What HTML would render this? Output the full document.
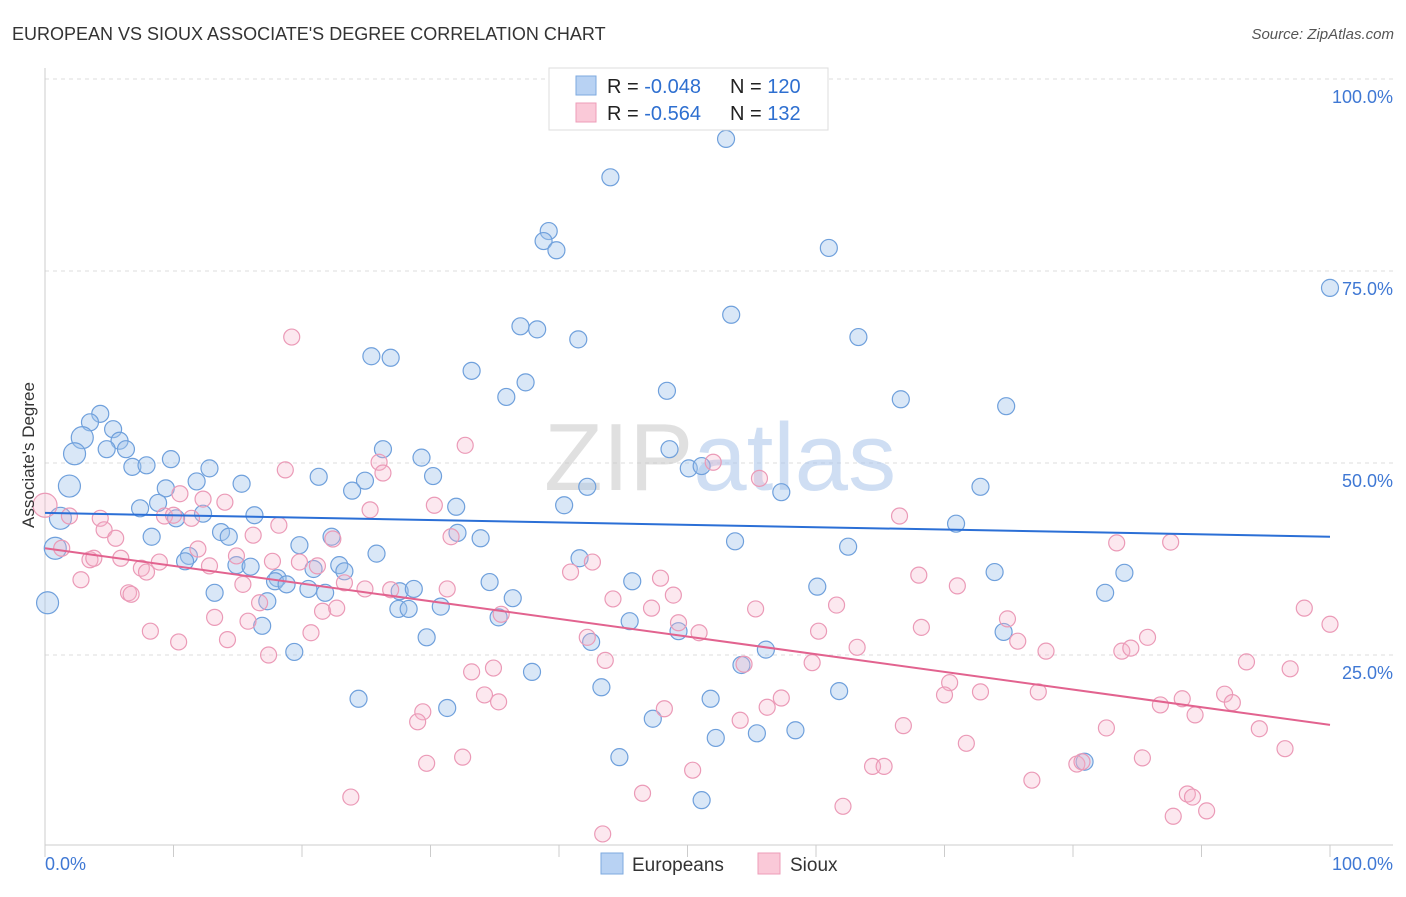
<!DOCTYPE html>
<html><head><meta charset="utf-8"><style>
body{margin:0;background:#fff;font-family:"Liberation Sans",sans-serif;}
svg text{font-family:"Liberation Sans",sans-serif;}
</style></head><body>
<svg id="chart" width="1406" height="892" xmlns="http://www.w3.org/2000/svg">
<text x="12" y="40" font-size="18" fill="#333">EUROPEAN VS SIOUX ASSOCIATE'S DEGREE CORRELATION CHART</text>
<text x="1394" y="39" font-size="15" fill="#555" font-style="italic" text-anchor="end">Source: ZipAtlas.com</text>
<g id="grid"></g>
<text x="720" y="490" font-size="96" text-anchor="middle" fill="#ccd6e6" opacity="0.55" font-family="Liberation Serif"><tspan fill="#c8c8c8">ZIP</tspan><tspan fill="#a8c4ea">atlas</tspan></text>
<g id="axes"></g>
<g id="pts"></g>
<g id="lines"></g>
<text x="34" y="455" font-size="17" fill="#333" text-anchor="middle" transform="rotate(-90 34 455)">Associate's Degree</text>
<g>
<rect x="549" y="68" width="279" height="62" fill="#fff" stroke="#ddd"/>
<rect x="576" y="76" width="20" height="19" fill="#b8d2f3" stroke="#7eaadf"/>
<rect x="576" y="103" width="20" height="19" fill="#fac9d8" stroke="#ee9db8"/>
<text x="607" y="93" font-size="20" fill="#222">R = <tspan fill="#2e6fd0">-0.048</tspan></text>
<text x="730" y="93" font-size="20" fill="#222">N = <tspan fill="#2e6fd0">120</tspan></text>
<text x="607" y="120" font-size="20" fill="#222">R = <tspan fill="#2e6fd0"> -0.564</tspan></text>
<text x="730" y="120" font-size="20" fill="#222">N = <tspan fill="#2e6fd0"> 132</tspan></text>
</g>
<g>
<rect x="601" y="853" width="22" height="21" fill="#b8d2f3" stroke="#7eaadf"/>
<text x="632" y="871" font-size="19" fill="#333">Europeans</text>
<rect x="758" y="853" width="22" height="21" fill="#fac9d8" stroke="#ee9db8"/>
<text x="790" y="871" font-size="19" fill="#333">Sioux</text>
</g>
</svg>
<script>
const yTicks=[25,50,75,100];
const yTickLabels=["25.0%","50.0%","75.0%","100.0%"];
const xTicks=[0,10,20,30,40,50,60,70,80,90,100];
const blueX=[53.0,44.0,39.2,38.8,39.8,61.0,100,37.0,38.3,53.4,41.5,63.3,25.4,26.9,33.2,37.4,48.4,35.9,66.6,74.8,4.3,3.5,2.9,5.3,5.8,4.8,6.3,2.3,6.8,7.9,9.8,12.8,26.3,29.3,48.6,50.1,51.1,1.9,9.4,11.8,15.3,21.3,24.9,23.9,30.2,42.2,57.3,72.8,8.8,7.4,12.3,10.2,16.3,32.0,40.4,1.2,13.7,14.3,8.3,32.1,33.9,22.3,19.8,53.7,62.5,70.9,0.8,25.8,11.2,10.9,14.9,16.0,41.6,20.9,22.9,23.3,18.1,17.9,18.8,20.5,21.8,13.2,34.6,45.7,27.6,28.7,36.4,60.1,73.9,84.0,82.5,0.2,17.3,27.5,28.3,30.8,35.3,45.5,16.9,49.3,74.6,29.7,42.5,19.4,56.1,54.2,37.9,43.3,61.8,24.4,31.3,51.8,47.3,52.2,55.4,58.4,44.7,80.9,51.1];
const blueY=[92.2,87.2,80.2,78.9,77.7,78.0,72.8,67.8,67.4,69.3,66.1,66.4,63.9,63.7,62.0,60.5,59.4,58.6,58.3,57.4,56.4,55.3,53.3,54.4,52.9,51.8,51.8,51.2,49.5,49.7,50.5,49.3,51.8,50.7,51.8,49.3,49.6,47.0,46.7,47.6,47.3,48.2,47.7,46.4,48.3,46.9,46.2,46.9,44.8,44.1,43.4,42.8,43.2,44.3,44.5,42.8,41.0,40.4,40.4,40.9,40.2,40.4,39.3,39.8,39.1,42.1,38.9,38.2,37.9,37.2,36.7,36.5,37.6,36.2,36.7,35.9,35.0,34.6,34.2,33.6,33.1,33.1,34.5,34.6,33.3,33.6,32.4,33.9,35.8,35.7,33.1,31.8,32.0,31.0,31.0,31.3,29.9,29.4,28.8,28.1,28.0,27.3,26.7,25.4,25.7,23.7,22.8,20.8,20.3,19.3,18.1,19.3,16.7,14.2,14.8,15.2,11.7,11.1,6.1];
const pinkX=[19.2,32.7,52.0,26.0,18.7,26.3,55.6,30.3,10.5,12.3,14.0,0,25.3,66.5,1.9,4.3,9.3,11.4,10.0,18.2,4.6,5.5,16.2,22.4,31.6,83.4,87.6,1.3,11.9,14.9,3.5,3.8,5.9,8.9,12.8,17.7,19.8,21.2,42.6,40.9,7.5,7.9,2.8,15.4,23.3,24.9,26.9,31.3,47.9,68.0,71.0,6.5,6.7,16.7,44.2,48.9,21.6,22.7,47.2,55.3,61.6,98.0,13.2,15.8,35.5,74.9,100,8.2,20.7,49.3,50.9,60.2,68.2,14.2,10.4,42.2,75.7,85.8,63.2,77.9,83.8,84.5,17.4,43.6,59.7,54.4,93.5,34.9,33.2,96.9,70.4,34.2,35.3,57.3,56.2,48.2,70.0,72.8,77.3,86.8,88.5,91.8,92.4,89.5,29.4,29.0,54.1,66.8,82.6,94.5,71.7,32.5,29.7,96.5,85.4,50.4,64.4,65.3,80.3,80.7,76.8,46.5,88.9,89.3,23.8,62.1,90.4,87.8,43.4];
const pinkY=[66.4,52.3,50.1,50.1,49.1,48.7,48.0,44.5,46.0,45.3,44.9,44.5,43.9,43.1,43.1,42.8,43.1,42.8,43.2,41.9,41.3,40.2,40.6,40.1,40.4,39.6,39.7,38.9,38.8,37.9,37.4,37.6,37.6,37.1,36.6,37.2,37.1,36.6,37.1,35.8,36.3,35.8,34.8,34.2,34.4,33.6,33.5,33.6,35.0,35.4,34.0,33.1,32.9,31.8,32.3,32.8,30.7,31.1,31.1,31.0,31.5,31.1,29.9,29.4,30.3,29.7,29.0,28.1,27.9,29.2,27.9,28.1,28.6,27.0,26.7,27.3,26.8,27.3,26.0,25.5,25.5,25.9,25.0,24.3,24.0,23.8,24.1,23.3,22.8,23.2,21.4,19.8,18.9,19.4,18.2,18.0,19.8,20.2,20.2,18.5,19.3,19.9,18.8,17.2,17.6,16.3,16.5,15.8,15.5,15.4,13.5,11.7,10.9,12.8,11.6,10.0,10.5,10.5,10.8,11.1,8.7,7.0,6.9,6.5,6.5,5.3,4.7,4.0,1.7];
const blueTrend=[43.5,40.4];
const pinkTrend=[38.9,15.9];

const NS="http://www.w3.org/2000/svg";
const X0=45,X1=1330,Y0=847,Y100=79;
const sx=v=>X0+(X1-X0)*v/100;
const sy=v=>Y0-(Y0-Y100)*v/100;
function mk(tag,attrs,parent){const e=document.createElementNS(NS,tag);for(const k in attrs)e.setAttribute(k,attrs[k]);parent.appendChild(e);return e;}
const grid=document.getElementById('grid'),axes=document.getElementById('axes'),pts=document.getElementById('pts'),lines=document.getElementById('lines');
yTicks.forEach((t,i)=>{
 const l=mk('line',{x1:45,x2:1393,y1:sy(t),y2:sy(t),stroke:'#ddd','stroke-dasharray':'4,4'},grid);
 
 
 const tx=mk('text',{x:1393,y:sy(t)+24,'font-size':18,fill:'#3f78d4','text-anchor':'end'},axes);
 tx.textContent=yTickLabels[i];
 
 
});
let a=mk('line',{x1:45,x2:45,y1:68,y2:845,stroke:'#ccc'},axes);


a=mk('line',{x1:45,x2:1393,y1:845,y2:845,stroke:'#ccc'},axes);


xTicks.forEach(t=>{
 const l=mk('line',{x1:sx(t),x2:sx(t),y1:845,y2:857,stroke:'#ccc'},axes);
 
 
});
let t1=mk('text',{x:45,y:870,'font-size':18,fill:'#3f78d4'},axes);t1.textContent='0.0%';


let t2=mk('text',{x:1393,y:870,'font-size':18,fill:'#3f78d4','text-anchor':'end'},axes);t2.textContent='100.0%';


blueX.forEach((v,i)=>{
 const big=v<3?11:8.5;
 const c=mk('circle',{cx:sx(v),cy:sy(blueY[i]),r:big,fill:'rgba(160,196,236,0.4)',stroke:'#6fa0dc','stroke-width':1.2},pts);
 
 
});
pinkX.forEach((v,i)=>{
 const big=v<1?12:8;
 const c=mk('circle',{cx:sx(v),cy:sy(pinkY[i]),r:big,fill:'rgba(246,180,202,0.3)',stroke:'#eb9ab7','stroke-width':1.2},pts);
 
 
});
let bl=mk('line',{x1:sx(0),x2:sx(100),y1:sy(blueTrend[0]),y2:sy(blueTrend[1]),stroke:'#2b6fd6','stroke-width':2},lines);


let pl=mk('line',{x1:sx(0),x2:sx(100),y1:sy(pinkTrend[0]),y2:sy(pinkTrend[1]),stroke:'#e2638f','stroke-width':2},lines);


</script>
</body></html>
